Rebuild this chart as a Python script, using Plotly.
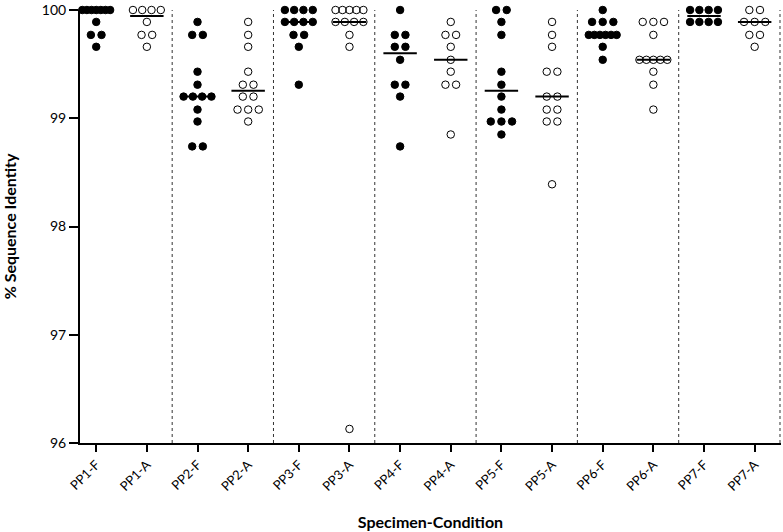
"""Dot plot: % sequence identity per specimen, fresh (F) vs archived (A), median bars."""

import numpy as np
import plotly.graph_objects as go

FONT = "Lato, 'Open Sans', sans-serif"

categories = ["PP1-F", "PP1-A", "PP2-F", "PP2-A", "PP3-F", "PP3-A", "PP4-F",
              "PP4-A", "PP5-F", "PP5-A", "PP6-F", "PP6-A", "PP7-F", "PP7-A"]

# identity values (clones per specimen-condition)
pp1_f = [100, 100, 100, 100, 100, 100, 100, 99.89, 99.77, 99.77, 99.66]
pp1_a = [100, 100, 100, 100, 99.89, 99.77, 99.77, 99.66]
pp2_f = [99.89, 99.77, 99.77, 99.43, 99.31, 99.20, 99.20, 99.20, 99.20,
         99.08, 98.97, 98.74, 98.74]
pp2_a = [99.89, 99.77, 99.66, 99.43, 99.31, 99.31, 99.20, 99.20, 99.08,
         99.08, 99.08, 98.97]
pp3_f = [100, 100, 100, 100, 99.89, 99.89, 99.89, 99.89, 99.77, 99.77, 99.66, 99.31]
pp3_a = [100, 100, 100, 100, 100, 99.89, 99.89, 99.89, 99.89, 99.77, 99.66, 96.13]
pp4_f = [100, 99.77, 99.77, 99.66, 99.66, 99.54, 99.31, 99.31, 99.20, 98.74]
pp4_a = [99.89, 99.77, 99.77, 99.66, 99.54, 99.43, 99.31, 99.31, 98.85]
pp5_f = [100, 100, 99.89, 99.77, 99.43, 99.31, 99.20, 99.08, 98.97, 98.97,
         98.97, 98.85]
pp5_a = [99.89, 99.77, 99.66, 99.43, 99.43, 99.20, 99.20, 99.08, 99.08,
         98.97, 98.97, 98.39]
pp6_f = [100, 99.89, 99.89, 99.89, 99.77, 99.77, 99.77, 99.77, 99.77, 99.77,
         99.66, 99.54]
pp6_a = [99.89, 99.89, 99.89, 99.77, 99.54, 99.54, 99.54, 99.54, 99.54,
         99.43, 99.31, 99.08]
pp7_f = [100, 100, 100, 100, 99.89, 99.89, 99.89, 99.89]
pp7_a = [100, 100, 99.89, 99.89, 99.89, 99.77, 99.77, 99.66]

series = [pp1_f, pp1_a, pp2_f, pp2_a, pp3_f, pp3_a, pp4_f,
          pp4_a, pp5_f, pp5_a, pp6_f, pp6_a, pp7_f, pp7_a]


def spread(values, center):
    """Put tied values side by side, squeezing wide rows."""
    xs, ys = [], []
    for v in sorted(set(values), reverse=True):
        n = values.count(v)
        step = min(0.21, 0.55 / (n - 1)) if n > 1 else 0
        for j in range(n):
            xs.append(center + (j - (n - 1) / 2) * step)
            ys.append(v)
    return xs, ys


fig = go.Figure()
for i, (cat, vals) in enumerate(zip(categories, series)):
    filled = cat.endswith("F")
    xs, ys = spread(vals, i)
    fig.add_trace(go.Scatter(
        x=xs, y=ys, mode="markers", cliponaxis=False, showlegend=False,
        marker=dict(size=7.5, symbol="circle" if filled else "circle-open",
                    color="black", line=dict(color="black", width=1)),
    ))
    med = float(np.median(vals))
    fig.add_trace(go.Scatter(
        x=[i - 0.33, i + 0.33], y=[med, med], mode="lines", cliponaxis=False,
        showlegend=False, line=dict(color="black", width=2),
    ))

# dotted separators between specimens
for k in range(1, len(categories) // 2 + 1):
    fig.add_vline(x=2 * k - 0.5, line=dict(color="#333", width=1, dash="dot"))

fig.update_layout(
    width=783, height=532,
    margin=dict(l=80, r=2, t=10, b=89),
    paper_bgcolor="white", plot_bgcolor="white",
    font=dict(family=FONT, color="black", size=13),
)
fig.update_xaxes(
    range=[-0.32, 13.52], tickvals=list(range(len(categories))), ticktext=categories,
    tickangle=-45, ticks="outside", ticklen=7, tickwidth=2, tickcolor="black",
    showline=True, linewidth=2, linecolor="black", showgrid=False, zeroline=False,
    tickfont=dict(size=13), automargin=False,
    title=dict(text="<b>Specimen-Condition</b>", font=dict(size=16), standoff=24),
)
fig.update_yaxes(
    range=[96, 100], tickvals=[96, 97, 98, 99, 100],
    ticks="outside", ticklen=9, tickwidth=2, tickcolor="black",
    showline=True, linewidth=2, linecolor="black", showgrid=False, zeroline=False,
    tickfont=dict(size=14), automargin=False, ticklabeloverflow="allow",
    title=dict(text="<b>% Sequence Identity</b>", font=dict(size=16), standoff=21),
)

# drop the browser's default body margin so the figure sits at the page corner
fig.write_html("out.html", config={"displayModeBar": False},
               post_script="document.body.style.margin = '0';")
